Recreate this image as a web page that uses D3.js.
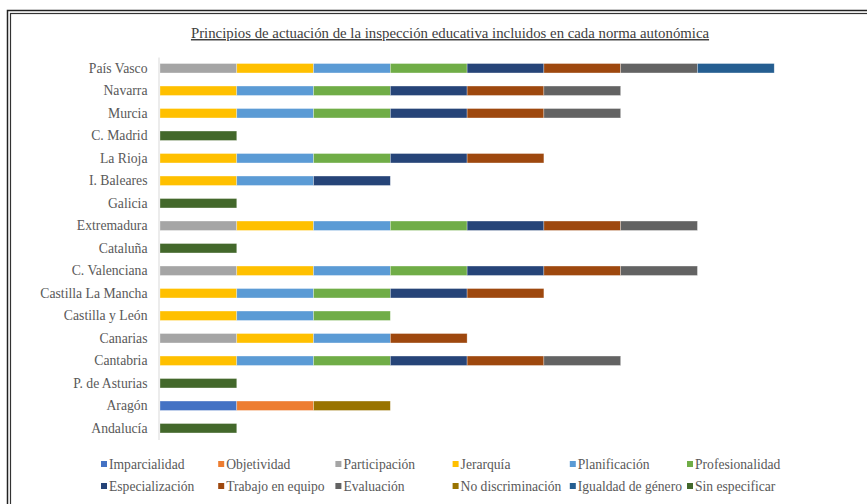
<!DOCTYPE html>
<html>
<head>
<meta charset="utf-8">
<script src="https://cdn.jsdelivr.net/npm/d3@7"></script>
<style>
  body { margin: 0; background: #fff; }
  svg text { font-family: "Liberation Serif", "Tinos", "DejaVu Serif Condensed", "DejaVu Serif", serif !important; }
</style>
</head>
<body>
<div id="chart"></div>
<script>
// regions, top to bottom
const regions = ["País Vasco", "Navarra", "Murcia", "C. Madrid", "La Rioja", "I. Baleares",
  "Galicia", "Extremadura", "Cataluña", "C. Valenciana", "Castilla La Mancha",
  "Castilla y León", "Canarias", "Cantabria", "P. de Asturias", "Aragón", "Andalucía"]

const principles = ["Imparcialidad", "Objetividad", "Participación", "Jerarquía", "Planificación",
  "Profesionalidad", "Especialización", "Trabajo en equipo", "Evaluación",
  "No discriminación", "Igualdad de género", "Sin especificar"]

// 1 = principle included in that region's norm (same order as regions)
const imparcialidad    = [0,0,0,0,0,0,0,0,0,0,0,0,0,0,0,1,0]
const objetividad      = [0,0,0,0,0,0,0,0,0,0,0,0,0,0,0,1,0]
const participacion    = [1,0,0,0,0,0,0,1,0,1,0,0,1,0,0,0,0]
const jerarquia        = [1,1,1,0,1,1,0,1,0,1,1,1,1,1,0,0,0]
const planificacion    = [1,1,1,0,1,1,0,1,0,1,1,1,1,1,0,0,0]
const profesionalidad  = [1,1,1,0,1,0,0,1,0,1,1,1,0,1,0,0,0]
const especializacion  = [1,1,1,0,1,1,0,1,0,1,1,0,0,1,0,0,0]
const trabajoEquipo    = [1,1,1,0,1,0,0,1,0,1,1,0,1,1,0,0,0]
const evaluacion       = [1,1,1,0,0,0,0,1,0,1,0,0,0,1,0,0,0]
const noDiscriminacion = [0,0,0,0,0,0,0,0,0,0,0,0,0,0,0,1,0]
const igualdadGenero   = [1,0,0,0,0,0,0,0,0,0,0,0,0,0,0,0,0]
const sinEspecificar   = [0,0,0,1,0,0,1,0,1,0,0,0,0,0,1,0,1]

const seriesValues = [imparcialidad, objetividad, participacion, jerarquia, planificacion,
  profesionalidad, especializacion, trabajoEquipo, evaluacion, noDiscriminacion,
  igualdadGenero, sinEspecificar]

const colors = ["#4472C4", "#ED7D31", "#A5A5A5", "#FFC000", "#5B9BD5", "#70AD47",
  "#264478", "#9E480E", "#636363", "#997300", "#255E91", "#43682B"]

const WIDTH = 867, HEIGHT = 504
const MARGIN = { LEFT: 159, RIGHT: 16, TOP: 57, BOTTOM: 65 }

const svg = d3.select("#chart").append("svg")
  .attr("width", WIDTH)
  .attr("height", HEIGHT)

// double frame
svg.append("rect").attr("x", 7.5).attr("y", 10.5).attr("width", 880).attr("height", 520)
  .attr("fill", "none").attr("stroke", "#222").attr("stroke-width", 1.5)
svg.append("rect").attr("x", 10.5).attr("y", 13.5).attr("width", 880).attr("height", 520)
  .attr("fill", "none").attr("stroke", "#333").attr("stroke-width", 1.2)

// title
svg.append("text")
  .attr("x", 450).attr("y", 38)
  .attr("text-anchor", "middle")
  .attr("font-size", "14.8px")
  .attr("fill", "#404040")
  .attr("text-decoration", "underline")
  .text("Principios de actuación de la inspección educativa incluidos en cada norma autonómica")

// build table for stacking
const table = regions.map((r, i) => {
  const row = { region: r }
  principles.forEach((p, j) => { row[p] = seriesValues[j][i] })
  return row
})
const stacked = d3.stack().keys(principles)(table)

const x = d3.scaleLinear()
  .domain([0, 9])
  .range([MARGIN.LEFT + 1, WIDTH - MARGIN.RIGHT])

const y = d3.scaleBand()
  .domain(regions)
  .range([MARGIN.TOP, HEIGHT - MARGIN.BOTTOM + 0.5])
  .paddingInner(0.58)
  .paddingOuter(0.29)

const color = d3.scaleOrdinal().domain(principles).range(colors)

// bars
svg.append("g").selectAll("g")
  .data(stacked)
  .join("g")
    .attr("fill", d => color(d.key))
  .selectAll("rect")
  .data(d => d.filter(s => s[1] - s[0] > 0))
  .join("rect")
    .attr("x", d => x(d[0]))
    .attr("y", d => y(d.data.region))
    .attr("width", d => x(d[1]) - x(d[0]))
    .attr("height", y.bandwidth())
    .attr("stroke", "#fff")
    .attr("stroke-opacity", 0.5)
    .attr("stroke-width", 0.6)

// category axis
const yAxis = d3.axisLeft(y).tickSize(0).tickPadding(11)
const gy = svg.append("g")
  .attr("transform", `translate(${MARGIN.LEFT - 0.5},0)`)
  .call(yAxis)
gy.select(".domain").attr("stroke", "#d9d9d9")
gy.selectAll("text")
  .attr("font-size", "13.7px")
  .attr("fill", "#595959")

// legend
const legendX = d3.scalePoint().domain(d3.range(6)).range([104, 690])
const legendY = [464, 486]
const legend = svg.append("g").selectAll("g")
  .data(principles)
  .join("g")
    .attr("transform", (d, i) => `translate(${legendX(i % 6)},${legendY[Math.floor(i / 6)]})`)
legend.append("rect")
  .attr("x", -3).attr("y", -3)
  .attr("width", 6).attr("height", 6)
  .attr("fill", d => color(d))
legend.append("text")
  .attr("x", 5).attr("y", 4.5)
  .attr("font-size", "13.6px")
  .attr("fill", "#595959")
  .text(d => d)
</script>
</body>
</html>
